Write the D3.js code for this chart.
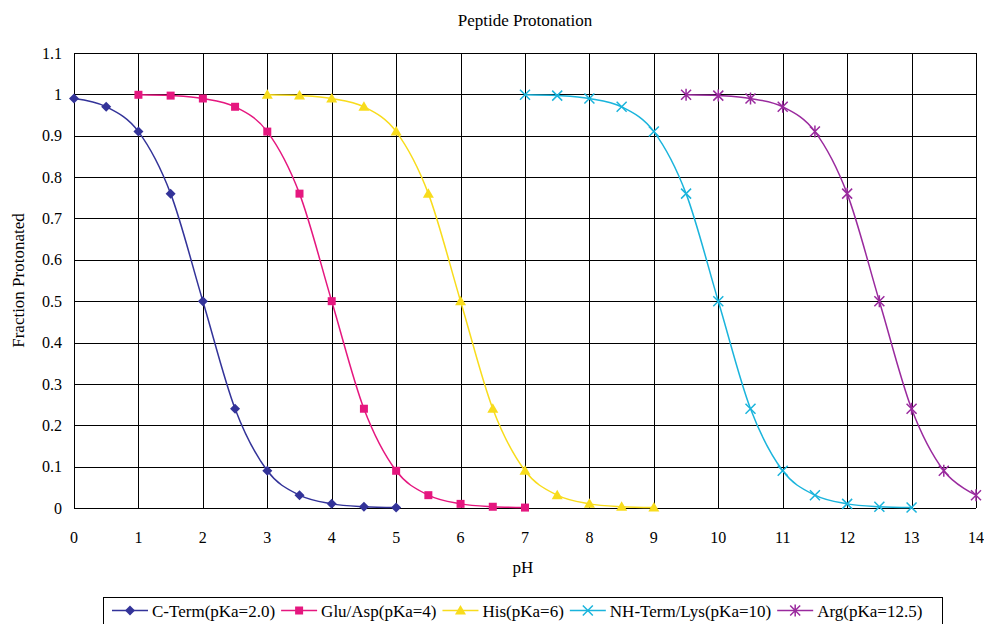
<!DOCTYPE html>
<html>
<head>
<meta charset="utf-8">
<script src="https://cdn.jsdelivr.net/npm/d3@7"></script>
<style>
  body { margin: 0; background: #fff; }
</style>
</head>
<body>
<div id="chart"></div>
<script>
// Series: x = pH, y = fraction protonated
var cTermPH = [0, 0.5, 1, 1.5, 2, 2.5, 3, 3.5, 4, 4.5, 5];
var cTermVal = [0.99, 0.97, 0.91, 0.76, 0.5, 0.24, 0.09, 0.031, 0.01, 0.003, 0.001];

var gluPH = [1, 1.5, 2, 2.5, 3, 3.5, 4, 4.5, 5, 5.5, 6, 6.5, 7];
var gluVal = [0.999, 0.997, 0.99, 0.97, 0.91, 0.76, 0.5, 0.24, 0.09, 0.031, 0.01, 0.003, 0.001];

var hisPH = [3, 3.5, 4, 4.5, 5, 5.5, 6, 6.5, 7, 7.5, 8, 8.5, 9];
var hisVal = [0.999, 0.997, 0.99, 0.97, 0.91, 0.76, 0.5, 0.24, 0.09, 0.031, 0.01, 0.003, 0.001];

var nhPH = [7, 7.5, 8, 8.5, 9, 9.5, 10, 10.5, 11, 11.5, 12, 12.5, 13];
var nhVal = [0.999, 0.997, 0.99, 0.97, 0.91, 0.76, 0.5, 0.24, 0.09, 0.031, 0.01, 0.003, 0.001];

var argPH = [9.5, 10, 10.5, 11, 11.5, 12, 12.5, 13, 13.5, 14];
var argVal = [0.999, 0.997, 0.99, 0.97, 0.91, 0.76, 0.5, 0.24, 0.09, 0.031];

var seriesNames = ["C-Term(pKa=2.0)", "Glu/Asp(pKa=4)", "His(pKa=6)", "NH-Term/Lys(pKa=10)", "Arg(pKa=12.5)"];
var xTicks = [0, 1, 2, 3, 4, 5, 6, 7, 8, 9, 10, 11, 12, 13, 14];
var yTicks = [0, 0.1, 0.2, 0.3, 0.4, 0.5, 0.6, 0.7, 0.8, 0.9, 1, 1.1];

// styles per series
var colors = ["#333399", "#e5177f", "#f8dc1c", "#1ab4dc", "#9a2a9e"];
var shapes = ["diamond", "square", "triangle", "cross", "star"];

var FONT = "'Liberation Serif', 'Times New Roman', 'DejaVu Serif', serif";

var W = 984, H = 624;
var margin = {top: 53, right: 8, bottom: 116, left: 74};
var width = W - margin.left - margin.right,
    height = H - margin.top - margin.bottom;

var x = d3.scaleLinear().domain([0, 14]).range([0, width]);
var y = d3.scaleLinear().domain([0, 1.1]).range([height, 0]);

var svg = d3.select("#chart").append("svg")
    .attr("width", W)
    .attr("height", H)
    .style("font-family", FONT);

var g = svg.append("g")
    .attr("transform", "translate(" + margin.left + "," + margin.top + ")");

// grid lines
g.selectAll(".hgrid").data(yTicks).enter().append("line")
    .attr("x1", 0).attr("x2", width)
    .attr("y1", d => Math.round(y(d)) + 0.5).attr("y2", d => Math.round(y(d)) + 0.5)
    .attr("stroke", "#000").attr("stroke-width", 1);

g.selectAll(".vgrid").data(xTicks).enter().append("line")
    .attr("y1", 0).attr("y2", height)
    .attr("x1", d => Math.round(x(d)) + 0.5).attr("x2", d => Math.round(x(d)) + 0.5)
    .attr("stroke", "#000").attr("stroke-width", 1);

// tick labels
g.selectAll(".ylab").data(yTicks).enter().append("text")
    .attr("x", -12)
    .attr("y", d => y(d))
    .attr("dy", "0.35em")
    .attr("text-anchor", "end")
    .style("font-size", "16px")
    .text(d => d3.format("~g")(d));

g.selectAll(".xlab").data(xTicks).enter().append("text")
    .attr("x", d => x(d))
    .attr("y", height + 35)
    .attr("text-anchor", "middle")
    .style("font-size", "16px")
    .text(d => d);

// axis titles
svg.append("text")
    .attr("x", 525)
    .attr("y", 26)
    .attr("text-anchor", "middle")
    .style("font-size", "17px")
    .text("Peptide Protonation");

svg.append("text")
    .attr("x", margin.left + width / 2 - 2)
    .attr("y", 573)
    .attr("text-anchor", "middle")
    .style("font-size", "17px")
    .text("pH");

svg.append("text")
    .attr("transform", "translate(24," + (margin.top + height / 2) + ") rotate(-90)")
    .attr("text-anchor", "middle")
    .style("font-size", "17px")
    .text("Fraction Protonated");

// markers
function symbolFor(shape) {
    if (shape === "diamond") return "M0,-5L5,0L0,5L-5,0Z";
    if (shape === "square") return "M-4,-4H4V4H-4Z";
    if (shape === "triangle") return "M0,-5.5L5.5,4L-5.5,4Z";
    if (shape === "cross") return "M-5,-5L5,5M-5,5L5,-5";
    return "M-5,-5L5,5M-5,5L5,-5M0,-6L0,6";
}

var line = d3.line()
    .x(d => x(d[0]))
    .y(d => y(d[1]))
    .curve(d3.curveCardinal.tension(0));

var allPH = [cTermPH, gluPH, hisPH, nhPH, argPH];
var allVal = [cTermVal, gluVal, hisVal, nhVal, argVal];

allPH.forEach(function(ph, i) {
    var pts = ph.map((p, j) => [p, allVal[i][j]]);
    g.append("path")
        .datum(pts)
        .attr("fill", "none")
        .attr("stroke", colors[i])
        .attr("stroke-width", 1.5)
        .attr("d", line);

    var open = shapes[i] === "cross" || shapes[i] === "star";
    g.selectAll(".m" + i).data(pts).enter().append("path")
        .attr("transform", d => "translate(" + x(d[0]) + "," + y(d[1]) + ")")
        .attr("d", symbolFor(shapes[i]))
        .attr("fill", open ? "none" : colors[i])
        .attr("stroke", colors[i])
        .attr("stroke-width", open ? 1.5 : 0);
});

// legend
var legend = svg.append("g");
legend.append("rect")
    .attr("x", 103.5).attr("y", 597.5)
    .attr("width", 839).attr("height", 40)
    .attr("fill", "#fff").attr("stroke", "#000");

var lx = 112;
seriesNames.forEach(function(name, i) {
    var item = legend.append("g");
    item.append("line")
        .attr("x1", lx).attr("x2", lx + 36)
        .attr("y1", 610.5).attr("y2", 610.5)
        .attr("stroke", colors[i]).attr("stroke-width", 1.5);
    var open = shapes[i] === "cross" || shapes[i] === "star";
    item.append("path")
        .attr("transform", "translate(" + (lx + 18) + ",610.5)")
        .attr("d", symbolFor(shapes[i]))
        .attr("fill", open ? "none" : colors[i])
        .attr("stroke", colors[i])
        .attr("stroke-width", open ? 1.5 : 0);
    var t = item.append("text")
        .attr("x", lx + 40)
        .attr("y", 617)
        .style("font-size", "17px")
        .text(name);
    lx += 40 + t.node().getComputedTextLength() + 6;
});
</script>
</body>
</html>
